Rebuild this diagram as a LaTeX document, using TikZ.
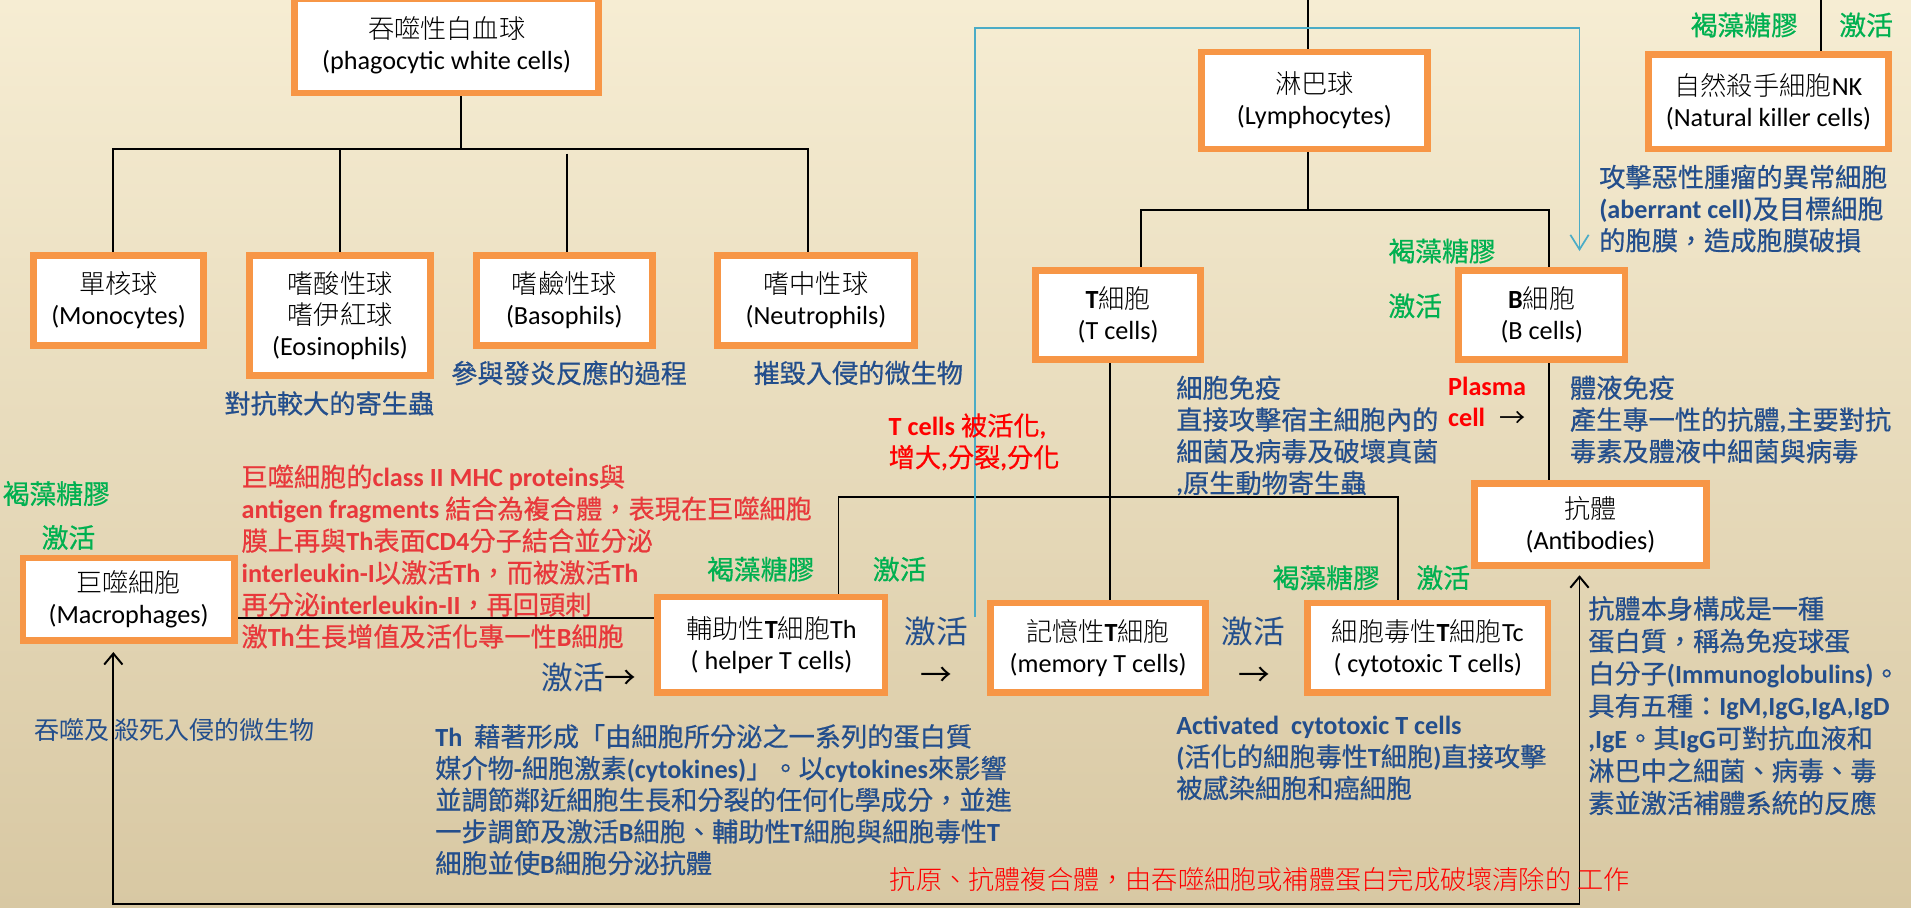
\documentclass[tikz,border=0pt]{standalone}
\usepackage{fontspec}
\setmainfont{Carlito}
\newfontfamily\cjkf{Noto Sans CJK TC}
\IfFontExistsTF{Noto Sans CJK TC Light}{\newfontfamily\cjklt{Noto Sans CJK TC Light}}{%
  \IfFontExistsTF{Noto Sans CJK TC DemiLight}{\newfontfamily\cjklt{Noto Sans CJK TC DemiLight}}{\let\cjklt\cjkf}}
\newfontfamily\cjkmd[FakeBold=0.6]{Noto Sans CJK TC}
\def\cjkcur{\cjkf}
\def\latcur{\rmfamily}
\usetikzlibrary{arrows.meta,calc}
\XeTeXinterchartokenstate=1
\chardef\cjkcls=3
\newcount\cjkcnt
\def\cjkrange#1#2{\cjkcnt=#1\relax
  \loop
    \XeTeXcharclass\cjkcnt=\cjkcls
    \ifnum\cjkcnt<#2\relax
    \advance\cjkcnt by 1\relax
  \repeat}
\cjkrange{"2190}{"21FF}
\cjkrange{"3000}{"303F}
\cjkrange{"4E00}{"9FFF}
\cjkrange{"FF00}{"FFEF}
\XeTeXinterchartoks 0 \cjkcls = {\cjkcur}
\XeTeXinterchartoks 4095 \cjkcls = {\cjkcur}
\XeTeXinterchartoks \cjkcls 0 = {\latcur}
\XeTeXinterchartoks \cjkcls 4095 = {\latcur}
\XeTeXinterchartoks 4095 0 = {\latcur}
\definecolor{borange}{HTML}{F79646}
\definecolor{tblue}{HTML}{234E8C}
\definecolor{tgreen}{HTML}{00B050}
\definecolor{tred}{HTML}{E8383B}
\definecolor{pred}{HTML}{FF0000}
\definecolor{cyanl}{HTML}{4BACC6}
\definecolor{bgtop}{HTML}{F6EDD3}
\definecolor{bgmid}{HTML}{EFE5C8}
\definecolor{bgbot}{HTML}{D8C8A3}
\pgfdeclarelayer{bgl}
\pgfdeclarelayer{cnl}
\pgfsetlayers{bgl,cnl,main}
\newcommand\descfont[2]{\def\cjkcur{\cjkmd\mdseries}\def\latcur{\rmfamily\bfseries}\bfseries\fontsize{#1}{#2}\selectfont}
\begin{document}
\begin{tikzpicture}[x=1pt,y=-1pt,
  box/.style={draw=borange, line width=5.5pt, fill=white, inner sep=0pt, align=center, font=\def\cjkcur{\cjklt}\fontsize{21.5}{25.5}\selectfont},
  btxt/.style={text=tblue, inner sep=0pt, align=left, font=\descfont{21.5}{26}},
  gtxt/.style={text=tgreen, inner sep=0pt, anchor=west, font=\descfont{22}{26}},
  bigtxt/.style={inner sep=0pt, anchor=west, font=\fontsize{26}{30}\selectfont},
  conn/.style={line width=1.6pt, draw=black}
]
\begin{pgfonlayer}{bgl}
\shade[top color=bgtop, middle color=bgmid, bottom color=bgbot] (0,0) rectangle (1568,745);
\end{pgfonlayer}
\useasboundingbox (0,0) rectangle (1568,745);

% boxes
\node[box, minimum width=249.5pt, minimum height=77.5pt] (phag) at (366.5,37.5) {吞噬性白血球\\(phagocytic white cells)};
\node[box, minimum width=140pt, minimum height=73.5pt] (mono) at (97.25,246.5) {單核球\\(Monocytes)};
\node[box, minimum width=148.5pt, minimum height=98.5pt] (eos) at (279,259) {嗜酸性球\\嗜伊紅球\\(Eosinophils)};
\node[box, minimum width=144.5pt, minimum height=73.5pt] (baso) at (463,246.5) {嗜鹼性球\\(Basophils)};
\node[box, minimum width=161.5pt, minimum height=73.5pt] (neut) at (669.5,246.5) {嗜中性球\\(Neutrophils)};
\node[box, minimum width=185.5pt, minimum height=79.5pt] (lymph) at (1078.5,82.5) {淋巴球\\(Lymphocytes)};
\node[box, minimum width=196.5pt, minimum height=77.5pt] (nk) at (1451,83.5) {自然殺手細胞NK\\(Natural killer cells)};
\node[box, minimum width=135.5pt, minimum height=73.5pt] (tcell) at (917.5,258.5) {\textbf{T}細胞\\(T cells)};
\node[box, minimum width=136.5pt, minimum height=73.5pt] (bcell) at (1265,258.5) {\textbf{B}細胞\\(B cells)};
\node[box, minimum width=190.5pt, minimum height=67.5pt] (ab) at (1305,430.5) {抗體\\(Antibodies)};
\node[box, minimum width=173.5pt, minimum height=67.5pt] (mac) at (105.5,491.5) {巨噬細胞\\(Macrophages)};
\node[box, minimum width=186.5pt, minimum height=78.5pt] (th) at (633,529) {輔助性\textbf{T}細胞Th\\( helper T cells)};
\node[box, minimum width=176.5pt, minimum height=73.5pt] (mem) at (901,531.5) {記憶性\textbf{T}細胞\\(memory T cells)};
\node[box, minimum width=197.5pt, minimum height=73.5pt] (tc) at (1171.5,531.5) {細胞毒性\textbf{T}細胞Tc\\( cytotoxic T cells)};

% junction coordinates
\coordinate (jp) at (378,122);
\coordinate (bl) at (93,122);
\coordinate (br) at (663,122);
\coordinate (bj) at (465,126);
\coordinate (lt) at (1073,0);
\coordinate (lj) at (1073,172);
\coordinate (tl) at (936,172);
\coordinate (bR) at (1271,172);
\coordinate (nt) at (1494,0);
\coordinate (tm) at (911,300);
\coordinate (hl) at (688,408);
\coordinate (hr) at (1147,408);
\coordinate (mt) at (300,507);
\coordinate (ll) at (93,742);
\coordinate (lr) at (1296,742);
\coordinate (c0) at (800,506);
\coordinate (c1) at (800,23);
\coordinate (c2) at (1296,23);

\begin{pgfonlayer}{cnl}
\draw[conn] (jp |- phag.south) -- (jp);
\draw[conn] (bl |- mono.north) -- (bl) -- (br) -- (br |- neut.north);
\draw[conn] (eos.north) -- (eos.north |- bl);
\draw[conn] (bj) -- (bj |- baso.north);
\draw[conn] (lt) -- (lt |- lymph.north);
\draw[conn] (lt |- lymph.south) -- (lj);
\draw[conn] (tl |- tcell.north) -- (tl) -- (bR) -- (bR |- bcell.north);
\draw[conn] (nt) -- (nt |- nk.north);
\draw[conn] (tcell.south -| tm) -- (mem.north -| tm);
\draw[conn] (hl |- th.north) -- (hl) -- (hr) -- (hr |- tc.north);
\draw[conn] (mac.east |- mt) -- (th.west |- mt);
\draw[conn] (bR |- bcell.south) -- (bR |- ab.north);
\draw[conn, {Straight Barb[length=9pt,width=15pt]}-{Straight Barb[length=9pt,width=15pt]}]
  ($(ll |- mac.south)+(0,7)$) -- (ll) -- (lr) -- ($(lr |- ab.south)+(0,5)$);
\draw[draw=cyanl, line width=1.4pt, -{Straight Barb[length=12pt,width=15pt]}]
  (c0) -- (c1) -- (c2) -- ($(c2 |- bcell.north)+(0,-13)$);
\end{pgfonlayer}

% green labels
\node[gtxt] (g1a) at (1387,20.5) {褐藻糖膠};
\node[gtxt] (g1b) at (1509,20.5) {激活};
\node[gtxt] (g2a) at (1139,206) {褐藻糖膠};
\node[gtxt] (g2b) at (1139,251) {激活};
\node[gtxt] (g3a) at (2,405) {褐藻糖膠};
\node[gtxt] (g3b) at (34,441) {激活};
\node[gtxt] (g4a) at (580,467) {褐藻糖膠};
\node[gtxt] (g4b) at (716,467) {激活};
\node[gtxt] (g5a) at (1044,474) {褐藻糖膠};
\node[gtxt] (g5b) at (1162,474) {激活};

% blue descriptions
\node[btxt, anchor=west] (eosd) at (184,331) {對抗較大的寄生蟲};
\node[btxt, anchor=west] (basod) at (370,306) {參與發炎反應的過程};
\node[btxt, anchor=west] (neutd) at (618,306) {摧毀入侵的微生物};
\node[btxt, anchor=north west] (nkd) at (1312,135) {攻擊惡性腫瘤的異常細胞\\(aberrant cell)及目標細胞\\的胞膜，造成胞膜破損};
\node[btxt, anchor=north west] (td) at (965,308) {細胞免疫\\直接攻擊宿主細胞內的\\細菌及病毒及破壞真菌\\,原生動物寄生蟲};
\node[btxt, anchor=north west] (bd) at (1288,308) {體液免疫\\產生專一性的抗體,主要對抗\\毒素及體液中細菌與病毒};
\node[btxt, anchor=north west] (thd) at (357,594) {Th\ \ 藉著形成「由細胞所分泌之一系列的蛋白質\\媒介物-細胞激素(cytokines)」。以cytokines來影響\\並調節鄰近細胞生長和分裂的任何化學成分，並進\\一步調節及激活B細胞、輔助性T細胞與細胞毒性T\\細胞並使B細胞分泌抗體};
\node[btxt, anchor=north west] (ctd) at (965,587.5) {Activated\ \ cytotoxic T cells\\(活化的細胞毒性T細胞)直接攻擊\\被感染細胞和癌細胞};
\node[btxt, anchor=north west, font=\descfont{21.5}{26.6}] (abd) at (1303,489) {抗體本身構成是一種\\蛋白質，稱為免疫球蛋\\白分子(Immunoglobulins)。\\具有五種：IgM,IgG,IgA,IgD\\,IgE。其IgG可對抗血液和\\淋巴中之細菌、病毒、毒\\素並激活補體系統的反應};
\node[inner sep=0pt, anchor=west, text=tblue, font=\fontsize{20.5}{24}\selectfont] (macd) at (28,599) {吞噬及 殺死入侵的微生物};

% red texts
\node[inner sep=0pt, anchor=north west, align=left, text=tred, font=\descfont{21.5}{26.2}] (macr) at (198,381)
 {巨噬細胞的class II MHC proteins與\\
  antigen fragments 結合為複合體，表現在巨噬細胞\\
  膜上再與Th表面CD4分子結合並分泌\\
  interleukin-I以激活Th，而被激活Th\\
  再分泌interleukin-II，再回頭刺\\
  激Th生長增值及活化專一性B細胞};
\node[inner sep=0pt, anchor=north west, align=left, text=pred, font=\descfont{21.5}{26}] (tact) at (729,339) {T cells 被活化,\\增大,分裂,分化};
\node[inner sep=0pt, anchor=north west, align=left, text=pred, font=\descfont{21.5}{26}] (plasma) at (1188,309) {Plasma\\cell};
\node[inner sep=0pt, anchor=west, font=\fontsize{21.5}{26}\selectfont] (parr) at (1230,344) {→};
\node[inner sep=0pt, anchor=west, text=pred, font=\def\cjkcur{\cjklt}\fontsize{21.5}{26}\selectfont] (botr) at (730,722) {抗原、抗體複合體，由吞噬細胞或補體蛋白完成破壞清除的 工作};

% big activation labels
\node[bigtxt] (act1) at (444,556) {\textcolor{tblue}{激活}→};
\node[bigtxt, text=tblue] (act2) at (742,518) {激活};
\node[bigtxt] (arr2) at (755,555) {→};
\node[bigtxt, text=tblue] (act3) at (1002,518) {激活};
\node[bigtxt] (arr3) at (1016,555) {→};
\end{tikzpicture}
\end{document}
